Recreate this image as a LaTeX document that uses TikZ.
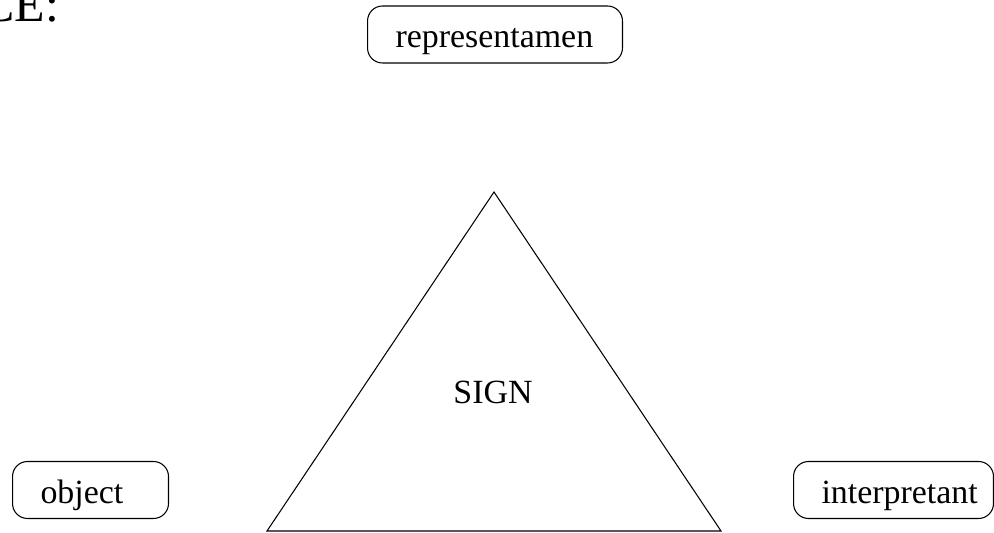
\documentclass[tikz,border=0pt]{standalone}
\usepackage{fontspec}
\setmainfont{Liberation Serif}
\usepackage{tikz}
\usetikzlibrary{positioning}
\newcommand\termfont{\fontsize{19.3}{23}\selectfont}
\newcommand\headfont{\fontsize{28.4}{34}\selectfont}

\begin{document}
\begin{tikzpicture}[x=0.02cm, y=-0.02cm,
  term/.style={draw, line width=0.6pt, rounded corners=0.3cm, font=\termfont,
               align=left, text width=#1, inner xsep=0.56cm, inner ysep=0pt,
               text height=0.84cm, text depth=0.3cm, anchor=west},
  side/.style={line width=0.6pt},
  sign/.style={font=\termfont, inner sep=0pt},
]
  \clip (0,0) rectangle (994,533);

  % Heading (cut off)
  \node[font=\headfont, anchor=base west, inner sep=0pt] (head) at (-19,22) {CE:};

  % Terms
  \node[term=3.98cm] (rep) at (367,34.5) {representamen};
  \node[term=2cm]    (obj) at (12,490)   {object};
  \node[term=2.88cm] (int) at (793,490)  {interpretant};

  % Triangle
  \coordinate (apex) at (494,192);
  \coordinate (bl)   at (267,531);
  \coordinate (br)   at (721,531);
  \draw[side] (apex) -- (bl) -- (br) -- cycle;
  \node[sign] (sgn) at (493,392) {SIGN};
\end{tikzpicture}
\end{document}
